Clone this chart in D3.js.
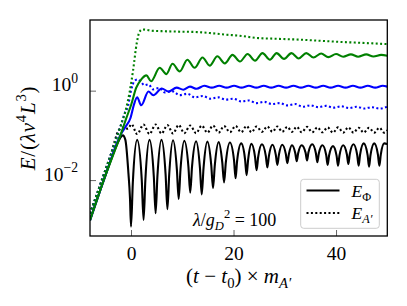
<!DOCTYPE html>
<html>
<head>
<meta charset="utf-8">
<script src="https://cdn.jsdelivr.net/npm/d3@7"></script>
<style>
  body { margin: 0; background: #fff; }
  svg { display: block; }
</style>
</head>
<body>
<div class="chart"></div>
<script>
// values, E on a log axis, t = (t - t0) m_A'
const xTicks = [0, 20, 40];
const yTicks = [0.01, 1];
const yTickExp = ["−2", "0"];

const blackPhi = [[-8, 0.00126], [-5, 0.0126], [-2.8, 0.06], [-2.1, 0.088], [-1.6, 0.1], [-1.1, 0.0794], [-0.5, 0.0141], [-0.2, 0.00398], [0, 0.000912],
  [0.35, 0.00851], [1.2, 0.0794], [2.1, 0.01],
  [2.45, 0.00129], [2.8, 0.01], [3.6, 0.0794], [4.45, 0.012],
  [4.8, 0.00182], [5.15, 0.012], [5.95, 0.0794], [6.75, 0.0133],
  [7.1, 0.00224], [7.45, 0.0132], [8.2, 0.0776], [8.95, 0.0172],
  [9.3, 0.0038], [9.65, 0.017], [10.4, 0.0759], [11.2, 0.02],
  [11.55, 0.00525], [11.9, 0.0197], [12.7, 0.0741], [13.45, 0.0188],
  [13.8, 0.00479], [14.15, 0.0186], [14.9, 0.0724], [15.65, 0.0219],
  [16.0, 0.00661], [16.35, 0.0216], [17.1, 0.0708], [17.8, 0.0251],
  [18.15, 0.00891], [18.5, 0.0248], [19.3, 0.0692], [20.1, 0.0275],
  [20.4, 0.011], [20.7, 0.0269], [21.5, 0.0661], [22.25, 0.0292],
  [22.55, 0.0129], [22.85, 0.0288], [23.5, 0.0646], [24.2, 0.0327],
  [24.5, 0.0166], [24.8, 0.0324], [25.55, 0.0631], [26.3, 0.0347],
  [26.6, 0.0191], [26.9, 0.0343], [27.6, 0.0617], [28.25, 0.0367],
  [28.55, 0.0219], [28.85, 0.0367], [29.5, 0.0617], [30.2, 0.0385],
  [30.5, 0.024], [30.8, 0.038], [31.4, 0.0603], [32.05, 0.0398],
  [32.33, 0.0263], [32.61, 0.0398], [33.3, 0.0603], [34.06, 0.0407],
  [34.34, 0.0275], [34.62, 0.0417], [35.35, 0.0631], [36.07, 0.0398],
  [36.35, 0.0251], [36.63, 0.0389], [37.35, 0.0603], [38.08, 0.0363],
  [38.36, 0.0219], [38.64, 0.0355], [39.4, 0.0575], [40.11, 0.0347],
  [40.39, 0.0209], [40.67, 0.0355], [41.4, 0.0603], [42.12, 0.0372],
  [42.4, 0.0229], [42.68, 0.038], [43.4, 0.0631], [44.13, 0.0363],
  [44.41, 0.0209], [44.69, 0.0372], [45.4, 0.0661], [46.16, 0.0363],
  [46.44, 0.02], [46.72, 0.0363], [47.45, 0.0661], [48.17, 0.0372],
  [48.45, 0.0209], [48.73, 0.0372], [49.4, 0.0661], [50, 0.064]];

const blackA = [[-8, 0.00178], [-6, 0.0079], [-4, 0.0355], [-2.3, 0.135], [-1.5, 0.151], [-0.6, 0.141], [0.1, 0.178],
  [1.2, 0.107], [2.45, 0.174], [3.6, 0.107], [4.8, 0.174], [5.95, 0.11], [7.1, 0.17], [8.2, 0.11], [9.3, 0.17],
  [10.4, 0.112], [11.55, 0.166], [12.7, 0.112], [13.8, 0.166], [14.9, 0.115], [16.0, 0.166], [17.1, 0.115],
  [18.15, 0.162], [19.3, 0.1175], [20.4, 0.162], [21.5, 0.1175], [22.55, 0.162], [23.5, 0.1175], [24.5, 0.158],
  [25.55, 0.12], [26.6, 0.158], [27.6, 0.12], [28.55, 0.158], [29.5, 0.12], [30.5, 0.155], [31.4, 0.12],
  [32.33, 0.155], [33.3, 0.117], [34.34, 0.155], [35.35, 0.117], [36.35, 0.151], [37.35, 0.117], [38.36, 0.151],
  [39.4, 0.115], [40.39, 0.151], [41.4, 0.115], [42.4, 0.151], [43.4, 0.115], [44.41, 0.148], [45.4, 0.115],
  [46.44, 0.148], [47.45, 0.115], [48.45, 0.148], [49.4, 0.115], [50, 0.13]];

const bluePhi = [[-8, 0.00126], [-5, 0.0126], [-2, 0.105], [-1, 0.16], [-0.1, 0.245], [0.6, 0.5], [1.2, 0.71], [2.0, 0.47],
  [3.4, 0.955], [4.35, 0.79], [6.0, 1.12], [7.3, 0.955], [8.9, 1.17], [10.2, 1.05], [11.5, 1.23], [12.8, 1.10],
  [14.3, 1.29], [15.75, 1.17], [17.2, 1.29], [18.65, 1.17], [20.1, 1.29], [21.55, 1.17], [23.0, 1.29], [24.45, 1.17],
  [25.9, 1.29], [27.35, 1.17], [28.8, 1.29], [30.25, 1.17], [31.7, 1.29], [33.15, 1.17], [34.6, 1.29], [36.05, 1.17],
  [37.5, 1.29], [38.95, 1.17], [40.4, 1.29], [41.85, 1.17], [43.3, 1.29], [44.75, 1.17], [46.2, 1.29], [47.65, 1.17],
  [49.1, 1.29], [50, 1.23]];

const blueA = [[-8, 0.00178], [-6, 0.0079], [-4, 0.0355], [-2, 0.166], [-1.2, 0.316], [-0.6, 0.447], [0, 1.0], [0.7, 1.66],
  [1.3, 1.78], [2.0, 1.55], [2.6, 1.32], [3.4, 1.38], [4.3, 1.07], [5.5, 1.15], [6.6, 0.912], [8.0, 0.977], [9.5, 0.794],
  [11.0, 0.851], [12.5, 0.708], [14, 0.759], [15.5, 0.661], [17, 0.708], [18.5, 0.631], [20, 0.661], [21.5, 0.575],
  [23, 0.603], [24.5, 0.525], [26, 0.562], [27.5, 0.501], [29, 0.525], [30.5, 0.468], [32, 0.501], [33.5, 0.437],
  [35, 0.468], [36.5, 0.427], [38, 0.457], [39.5, 0.417], [41, 0.447], [42.5, 0.407], [44, 0.437], [45.5, 0.398],
  [47, 0.427], [48.5, 0.398], [50, 0.437]];

const greenPhi = [[-8, 0.00126], [-5, 0.0126], [-2, 0.105], [-0.9, 0.245], [0.05, 0.49], [1.0, 1.15], [2.0, 1.78],
  [3.0, 2.19], [3.9, 1.62], [5.6, 3.24], [6.9, 2.34], [8.1, 3.98], [9.5, 2.69], [11.0, 4.9], [12.4, 3.24],
  [13.95, 5.5], [15.35, 3.63], [16.85, 5.89], [18.3, 4.07], [19.8, 6.31], [21.25, 4.47], [22.75, 6.61], [24.2, 4.68],
  [25.65, 6.92], [27.1, 4.9], [28.4, 6.92], [29.85, 5.13], [31.3, 6.92], [32.7, 5.25], [34.2, 6.92], [35.6, 5.5],
  [37.1, 6.76], [38.5, 5.62], [40.0, 6.61], [41.4, 5.75], [42.9, 6.46], [44.3, 5.75], [45.9, 6.46], [47.3, 5.82],
  [48.8, 6.31], [50, 6.03]];

const greenA = [[-8, 0.00178], [-6, 0.0079], [-4, 0.0355], [-2, 0.166], [-1, 0.38], [-0.3, 0.891], [0.4, 2.82],
  [1.1, 11.2], [1.6, 19.95], [2.2, 23.4], [3, 22.9], [4, 21.9], [6, 21.4], [9, 20.9], [13, 20.4], [16, 19.1],
  [18.7, 17.8], [21, 17.0], [24.5, 15.1], [28, 14.5], [33, 13.8], [36, 13.2], [40.8, 12.3], [45, 11.7], [50, 11.0]];

const series = [
  { data: blackPhi, color: "black", dotted: false },
  { data: blackA, color: "black", dotted: true },
  { data: bluePhi, color: "blue", dotted: false },
  { data: blueA, color: "blue", dotted: true },
  { data: greenPhi, color: "green", dotted: false },
  { data: greenA, color: "green", dotted: true }
];

const FONT = '"Liberation Serif"';
const DOTS = "2,2.4";

const outerWidth = 407;
const outerHeight = 306;
const margin = { top: 20, left: 90, bottom: 70, right: 19.7 };
const width = outerWidth - margin.left - margin.right;
const height = outerHeight - margin.top - margin.bottom;

const svg = d3.select(".chart")
  .append("svg")
  .attr("width", outerWidth)
  .attr("height", outerHeight);

const g = svg.append("g")
  .attr("transform", `translate(${margin.left}, ${margin.top})`);

const xScale = d3.scaleLinear().domain([-8, 50]).range([0, width]);
const yScale = d3.scaleLog().domain([5.62e-4, 38]).range([height, 0]);

// mathtext-ish label: parts are [text, flags], i = italic, ^ = sup, _ = sub
function rich(sel, parts, size) {
  let cur = 0;
  parts.forEach(([t, s = ""]) => {
    const target = s.includes("^") ? -0.42 * size : s.includes("_") ? 0.24 * size : 0;
    const ts = sel.append("tspan").text(t).attr("dy", target - cur);
    cur = target;
    if (s.includes("i")) ts.style("font-style", "italic");
    if (target) ts.style("font-size", `${0.7 * size}px`);
  });
  return sel;
}

g.append("clipPath").attr("id", "plot-clip")
  .append("rect").attr("width", width).attr("height", height);

const line = d3.line()
  .x(d => xScale(d[0]))
  .y(d => yScale(d[1]))
  .curve(d3.curveMonotoneX);

const lines = g.append("g").attr("clip-path", "url(#plot-clip)");
series.forEach(s => {
  lines.append("path")
    .datum(s.data)
    .attr("d", line)
    .attr("fill", "none")
    .attr("stroke", s.color)
    .attr("stroke-width", 2.1)
    .attr("stroke-dasharray", s.dotted ? DOTS : null);
});

// axes, ticks pointing inward
const xAxis = d3.axisBottom(xScale)
  .tickValues(xTicks)
  .tickSizeInner(-6)
  .tickSizeOuter(0)
  .tickPadding(10);

const yAxis = d3.axisLeft(yScale)
  .tickValues(yTicks)
  .tickSizeInner(-6)
  .tickSizeOuter(0)
  .tickPadding(12)
  .tickFormat(() => "");

const gx = g.append("g").attr("transform", `translate(0, ${height})`).call(xAxis);
const gy = g.append("g").call(yAxis);

[gx, gy].forEach(a => {
  a.attr("font-family", null).attr("font-size", null);
  a.select(".domain").remove();
  a.selectAll(".tick line").attr("stroke", "#666").attr("stroke-width", 1);
  a.selectAll(".tick text").style("font-size", "19.5px").attr("fill", "black");
});

gy.selectAll(".tick text")
  .attr("dy", "0.45em")
  .each(function(d, i) {
    rich(d3.select(this), [["10"], [yTickExp[i], "^"]], 19.5);
  });

// frame
g.append("rect")
  .attr("width", width)
  .attr("height", height)
  .attr("fill", "none")
  .attr("stroke", "black")
  .attr("stroke-width", 1.3);

// axis titles
rich(svg.append("text")
  .attr("x", margin.left + width / 2)
  .attr("y", 282.5)
  .attr("text-anchor", "middle")
  .style("font-size", "21px"),
  [["("], ["t", "i"], [" − "], ["t", "i"], ["0", "_"], [")"], [" × "], ["m", "i"], ["A′", "_i"]], 21);

rich(svg.append("text")
  .attr("transform", `translate(35, ${margin.top + height / 2}) rotate(-90)`)
  .attr("text-anchor", "middle")
  .style("font-size", "21px")
  .style("letter-spacing", "0.8px"),
  [["E", "i"], ["/("], ["λv", "i"], ["4", "^"], ["L", "i"], ["3", "^"], [")"]], 21);

// annotation
rich(svg.append("text")
  .attr("x", 193)
  .attr("y", 226)
  .style("font-size", "18px"),
  [["λ", "i"], ["/"], ["g", "i"], ["D", "_i"], ["2", "^"], [" = 100"]], 18);

// legend
const leg = svg.append("g");
leg.append("rect")
  .attr("x", 300.7).attr("y", 179.3)
  .attr("width", 78.6).attr("height", 49)
  .attr("rx", 3)
  .attr("fill", "white").attr("fill-opacity", 0.8)
  .attr("stroke", "#cccccc").attr("stroke-width", 1);

const legItems = [
  { y: 190.5, dotted: false, parts: [["E", "i"], ["Φ", "_"]] },
  { y: 213, dotted: true, parts: [["E", "i"], ["A′", "_i"]] }
];
legItems.forEach(it => {
  leg.append("line")
    .attr("x1", 306.5).attr("x2", 339.5)
    .attr("y1", it.y).attr("y2", it.y)
    .attr("stroke", "black")
    .attr("stroke-width", 2.1)
    .attr("stroke-dasharray", it.dotted ? DOTS : null);
  rich(leg.append("text")
    .attr("x", 351.5)
    .attr("y", it.y + 6)
    .style("font-size", "17.5px"), it.parts, 17.5);
});

// every text in the serif face
svg.selectAll("text").style("font-family", FONT);
</script>
</body>
</html>
